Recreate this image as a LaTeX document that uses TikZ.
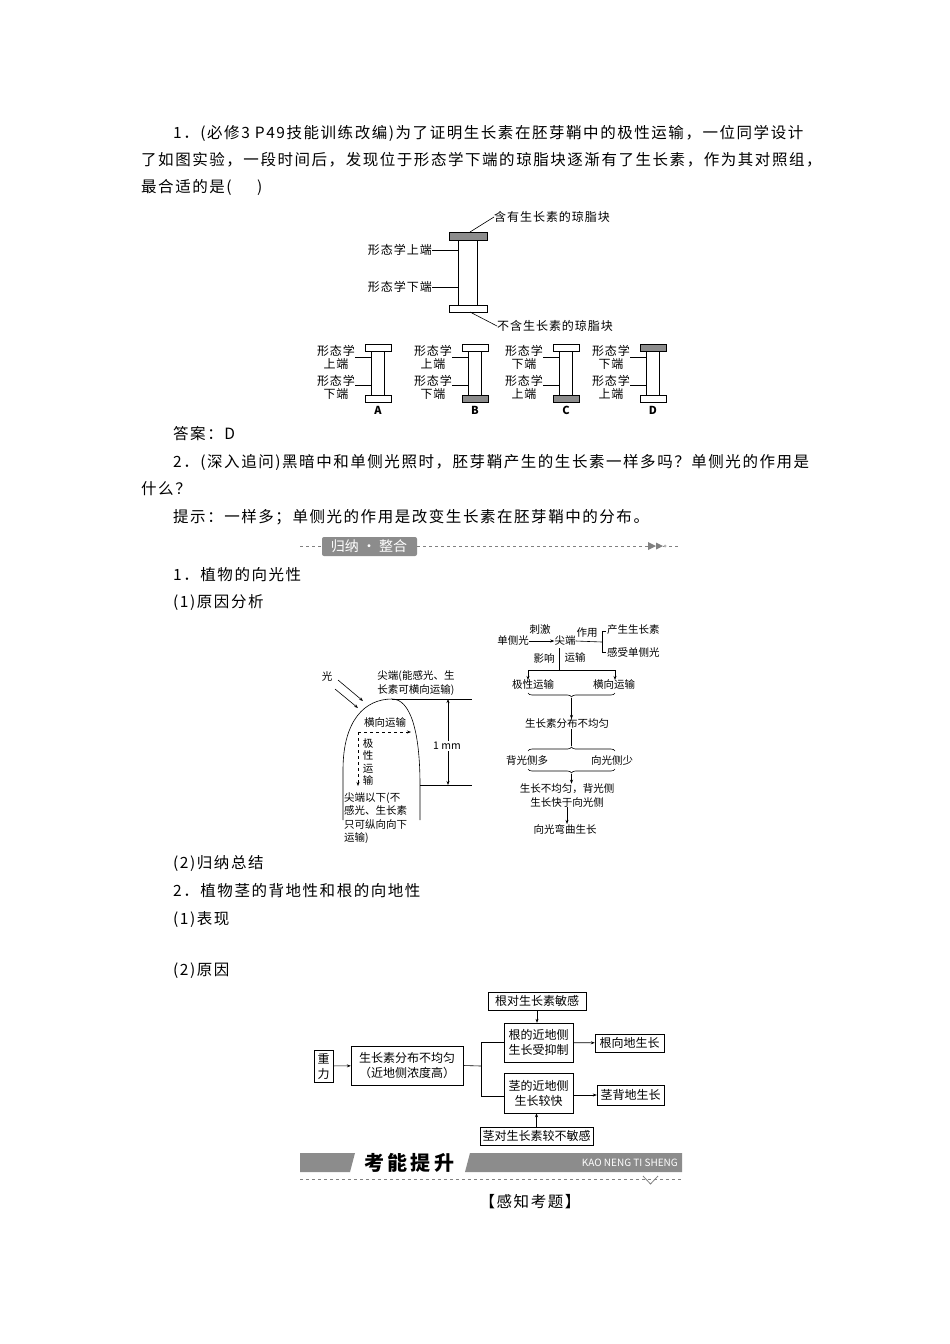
\documentclass[tikz,border=0pt]{standalone}
\usepackage{fontspec}
\setmainfont{Noto Sans CJK SC}
\newfontfamily\spc[LetterSpace=10]{Noto Sans CJK SC}
\newfontfamily\spl[LetterSpace=8]{Noto Sans CJK SC}
\usetikzlibrary{arrows.meta,decorations.pathreplacing}
\definecolor{blk}{gray}{0.55}
\definecolor{ban}{gray}{0.55}
\begin{document}
\begin{tikzpicture}[x=1pt,y=-1pt,
  body/.style={anchor=west,inner sep=0pt,font=\spc\fontsize{15.5}{18}\selectfont},
  lab/.style={inner sep=0pt,font=\spl\fontsize{12}{13.5}\selectfont,align=center},
  sm/.style={inner sep=0pt,font=\fontsize{10.5}{13.5}\selectfont,align=center},
  fbox/.style={draw,inner sep=0pt,font=\fontsize{12}{15}\selectfont,align=center},
  ln/.style={line width=0.6pt},
  arr/.style={line width=0.6pt,-{Stealth[length=4pt,width=3pt]}},
  gblk/.style={draw,line width=0.6pt,fill=blk},
  wblk/.style={draw,line width=0.6pt,fill=white}]
\useasboundingbox (0,0) rectangle (950,1344);
\fill[white] (0,0) rectangle (950,1344);
% body text
\node[body] (t1) at (173,133) {1．(必修3 P49技能训练改编)为了证明生长素在胚芽鞘中的极性运输，一位同学设计};
\node[body] (t2) at (141,160) {了如图实验，一段时间后，发现位于形态学下端的琼脂块逐渐有了生长素，作为其对照组，};
\node[body] (t3) at (141,187) {最合适的是(\quad\ \ )};
\node[body] (t4) at (173,434) {答案：D};
\node[body] (t5) at (173,462) {2．(深入追问)黑暗中和单侧光照时，胚芽鞘产生的生长素一样多吗？单侧光的作用是};
\node[body] (t6) at (141,489) {什么？};
\node[body] (t7) at (173,517) {提示：一样多；单侧光的作用是改变生长素在胚芽鞘中的分布。};
\node[body] (t8) at (173,575) {1．植物的向光性};
\node[body] (t9) at (173,603) {(1)原因分析};
\node[body] (t10) at (173,863) {(2)归纳总结};
\node[body] (t11) at (173,891) {2．植物茎的背地性和根的向地性};
\node[body] (t12) at (173,919) {(1)表现};
\node[body] (t13) at (173,971) {(2)原因};
\node[body,anchor=center] (t14) at (530,1202) {【感知考题】};
% figure 1 top
\draw[ln] (458,240) rectangle (477,305);
\draw[gblk] (449,232) rectangle (487,240);
\draw[wblk] (449,305) rectangle (487,312);
\node[lab,anchor=west] (l1) at (494,217) {含有生长素的琼脂块};
\node[lab,anchor=west] (l2) at (497,326) {不含生长素的琼脂块};
\node[lab,anchor=east] (l3) at (432,250) {形态学上端};
\node[lab,anchor=east] (l4) at (432,287) {形态学下端};
\draw[ln] (470,232) -- (l1.west);
\draw[ln] (470,312) -- (l2.west);
\draw[ln] (l3.east) -- (458,250);
\draw[ln] (l4.east) -- (458,287);
% small figures
\foreach \dx/\tf/\bf/\a/\b/\L in {0/wblk/wblk/上端/下端/A, 97/wblk/gblk/上端/下端/B, 188/wblk/gblk/下端/上端/C, 275/gblk/wblk/下端/上端/D}{
  \begin{scope}[xshift=\dx]
  \draw[ln] (371,351) rectangle (384,395);
  \draw[\tf] (365,344) rectangle (391,351);
  \draw[\bf] (365,395) rectangle (391,402);
  \node[lab] (sa\L) at (336,357.5) {形态学\\\a};
  \node[lab] (sb\L) at (336,387.5) {形态学\\\b};
  \draw[ln] (355,357) -- (371,357);
  \draw[ln] (355,385) -- (371,385);
  \node[lab,font=\fontsize{11}{12}\selectfont\bfseries] (L\L) at (378,410) {\L};
  \end{scope}}
% banner 1
\draw[gray,dashed,line width=0.7pt] (300,546) -- (322,546) (417,546) -- (680,546);
\fill[ban,rounded corners=2pt] (322,537) rectangle (417,556);
\node[inner sep=0pt,text=white,font=\fontsize{14}{14}\selectfont] (b1) at (369,546.5) {归纳 · 整合};
\fill[gray] (648,542) -- (656,546) -- (648,550) -- cycle;
\fill[gray] (656,542.5) -- (663,546) -- (656,549.5) -- cycle;
\fill[gray!60] (665,546) circle (1.5);
% phototropism left
\draw[ln] (343,820) -- (343,770) .. controls (343,720) and (365,699) .. (392,699) .. controls (410,699) and (420,730) .. (420,785) -- (420,820);
\draw[ln] (392,699) -- (472,699);
\draw[ln] (420,785) -- (472,785);
\coordinate (mt) at (448,699); \coordinate (mb) at (448,785);
\draw[line width=0.6pt,{Stealth[length=4pt,width=3pt]}-{Stealth[length=4pt,width=3pt]}] (mt) -- (mb);
\node[sm,fill=white,inner sep=1pt] (mm) at (447,746) {1 mm};
\node[sm] (guang) at (327,677) {光};
\coordinate (g1a) at (338,680); \coordinate (g1b) at (363,701);
\coordinate (g2a) at (335,689); \coordinate (g2b) at (358,708);
\draw[arr] (g1a) -- (g1b);
\draw[arr] (g2a) -- (g2b);
\node[sm,align=left] (jd) at (416,683) {尖端(能感光、生\\长素可横向运输)};
\node[sm] (hx) at (385,723) {横向运输};
\coordinate (dc) at (358,732);
\draw[line width=0.6pt,dashed,-{Stealth[length=4pt,width=3pt]}] (dc) -- (411,732);
\draw[line width=0.6pt,dashed,-{Stealth[length=4pt,width=3pt]}] (dc) -- (358,786);
\node[sm,font=\fontsize{10.5}{12.5}\selectfont] (jx) at (368,762) {极\\性\\运\\输};
\node[sm,align=left,anchor=north west] (xia) at (344,792) {尖端以下(不\\感光、生长素\\只可纵向向下\\运输)};
% phototropism right
\node[sm] (r1) at (513,641) {单侧光};
\node[sm] (r2) at (565,641) {尖端};
\node[sm] (r1l) at (540,630) {刺激};
\draw[arr] (r1.east) -- (r2.west);
\node[sm] (zy) at (587,633) {作用};
\draw[ln] (r2.east) -- (602,642);
\draw[ln] (606,631) -- (602,631) -- (602,652) -- (606,652);
\node[sm,anchor=west] (cs) at (607,630) {产生生长素};
\node[sm,anchor=west] (gs) at (607,652) {感受单侧光};
\node[sm] (yx) at (544,658) {影响};
\node[sm] (ys) at (575,658) {运输};
\draw[ln] (559,648) -- (559,670);
\draw[ln] (528,670) -- (615,670);
\node[sm] (jy) at (533,685) {极性运输};
\node[sm] (hy) at (614,685) {横向运输};
\draw[arr] (528,670) -- (jy.north -| 528,0);
\draw[arr] (615,670) -- (hy.north -| 615,0);
\draw[ln,decorate,decoration={brace,amplitude=4pt}] (615,693) -- (528,693);
\node[sm] (fb) at (567,724) {生长素分布不均匀};
\draw[arr] (571.5,698) -- (fb.north -| 571.5,0);
\draw[ln,decorate,decoration={brace,amplitude=4pt}] (528,751) -- (615,751);
\draw[ln] (571.5,746) -- (fb.south -| 571.5,0);
\node[sm] (bg) at (527,760) {背光侧多};
\node[sm] (xg) at (612,760) {向光侧少};
\draw[ln,decorate,decoration={brace,amplitude=4pt}] (615,769) -- (528,769);
\node[sm] (bj) at (567,795.5) {生长不均匀，背光侧\\生长快于向光侧};
\draw[arr] (571.5,774) -- (bj.north -| 571.5,0);
\node[sm] (wq) at (565,829) {向光弯曲生长};
\draw[arr] (bj.south -| 567,0) -- (wq.north -| 567,0);
% flowchart
\node[fbox,minimum width=98,minimum height=18] (g0) at (537,1001) {根对生长素敏感};
\node[fbox,minimum width=69,minimum height=39] (g1) at (538.5,1042.5) {根的近地侧\\生长受抑制};
\node[fbox,minimum width=19,minimum height=32] (zl) at (323.5,1066) {重\\力};
\node[fbox,minimum width=112,minimum height=39] (fb2) at (407,1065.5) {生长素分布不均匀\\（近地侧浓度高）};
\node[fbox,minimum width=69,minimum height=40] (j1) at (538.5,1093) {茎的近地侧\\生长较快};
\node[fbox,minimum width=69,minimum height=18] (gx) at (629.5,1043) {根向地生长};
\node[fbox,minimum width=67,minimum height=20] (jb) at (630.5,1095) {茎背地生长};
\node[fbox,minimum width=113,minimum height=18] (j0) at (536.5,1136) {茎对生长素较不敏感};
\draw[arr] (zl) -- (fb2);
\draw[arr] (g0) -- (g0.south |- g1.north);
\draw[arr] (j0) -- (j0.north |- j1.south);
\draw[arr] (g1) -- (gx);
\draw[arr] (j1.east |- jb) -- (jb);
\draw[ln] (fb2.east) -- (481,1066);
\draw[ln] (g1.west |- 0,1042) -- (481,1042) -- (481,1096) -- (j1.west |- 0,1096);
% banner 2
\fill[ban] (300,1153) -- (355,1153) -- (350,1172) -- (300,1172) -- cycle;
\fill[ban] (470,1153) -- (682,1153) -- (682,1172) -- (465,1172) -- cycle;
\node[inner sep=0pt,font=\fontsize{20}{20}\selectfont\bfseries] (kn) at (409,1163) {考\,能\,提\,升};
\node[inner sep=0pt,anchor=east,text=white,font=\fontsize{10}{10}\selectfont] (kao) at (678,1163) {KAO NENG TI SHENG};
\draw[gray,dashed,line width=0.7pt] (300,1179) -- (682,1179);
\draw[gray,line width=0.8pt] (643,1176) -- (650.5,1184) -- (658,1176);
\end{tikzpicture}
\end{document}
